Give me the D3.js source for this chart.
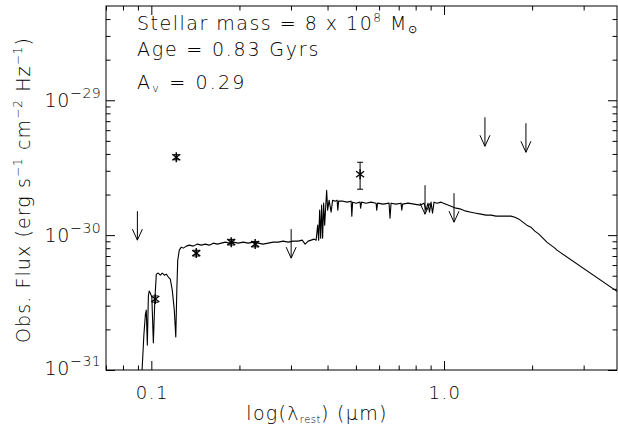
<!DOCTYPE html>
<html>
<head>
<meta charset="utf-8">
<script src="https://cdn.jsdelivr.net/npm/d3@7"></script>
<style>
  body { margin: 0; background: #fff; }
  svg { display: block; }
  text { font-family: "DejaVu Sans", sans-serif; font-weight: 300; fill: #000; }
</style>
</head>
<body>
<svg id="chart" width="618" height="438"></svg>
<script>
// model spectrum: rest wavelength (micron) and flux in units of 1e-30 erg/s/cm2/Hz
var specLambda = [0.0928,0.0943,0.0954,0.0961,0.0969,0.0977,0.0983,0.0992,0.1004,0.1016,
  0.1028,0.1040,0.1056,0.1073,0.1090,0.1108,0.1125,0.1143,0.1161,0.1179,
  0.1198,0.1212,0.1222,0.1231,0.1246,0.1266,0.1286,0.1317,0.1348,0.1391,
  0.1436,0.1482,0.1529,0.1578,0.1628,0.1680,0.1734,0.1789,0.1846,0.1905,
  0.1981,0.2061,0.2143,0.2229,0.2318,0.2411,0.2507,0.2608,0.2712,0.2821,
  0.2934,0.3051,0.3174,0.3276,0.3353,0.3434,0.3516,0.3600,0.3657,0.3701,
  0.3730,0.3759,0.3789,0.3818,0.3848,0.3879,0.3910,0.3972,0.4003,0.4050,
  0.4114,0.4163,0.4246,0.4313,0.4337,0.4364,0.4520,0.4667,0.4816,0.4842,
  0.4873,0.5006,0.5168,0.5188,0.5229,0.5419,0.5633,0.5861,0.5891,0.5929,
  0.6191,0.6489,0.6539,0.6592,0.6855,0.7133,0.7172,0.7218,0.7535,0.7900,
  0.8281,0.8545,0.8681,0.8817,0.8923,0.9029,0.9136,0.9244,0.9464,0.9767,
  1.016,1.057,1.099,1.143,1.189,1.236,1.286,1.337,1.391,1.447,
  1.505,1.565,1.627,1.693,1.747,1.803,1.860,1.919,1.981,2.044,
  2.110,2.177,2.246,2.318,2.392,2.431,4.0];
var specFlux = [0.092,0.182,0.256,0.278,0.153,0.353,0.385,0.372,0.347,0.159,
  0.330,0.514,0.523,0.505,0.523,0.505,0.514,0.489,0.472,0.391,
  0.278,0.176,0.391,0.653,0.774,0.815,0.801,0.829,0.843,0.829,
  0.858,0.843,0.858,0.843,0.872,0.858,0.872,0.887,0.872,0.887,
  0.872,0.887,0.872,0.887,0.872,0.858,0.872,0.887,0.887,0.903,
  0.887,0.903,0.903,0.918,0.858,0.903,0.918,0.934,0.918,1.186,
  0.918,1.532,0.950,1.668,0.950,1.726,1.186,2.154,1.532,1.816,
  1.480,1.816,1.786,1.816,1.532,1.786,1.786,1.756,1.786,1.383,
  1.756,1.726,1.756,1.585,1.756,1.726,1.756,1.726,1.532,1.726,
  1.697,1.726,1.336,1.726,1.697,1.726,1.532,1.697,1.726,1.697,
  1.668,1.726,1.532,1.726,1.480,1.756,1.455,1.756,1.726,1.756,
  1.697,1.640,1.585,1.558,1.506,1.480,1.455,1.431,1.407,1.407,
  1.383,1.383,1.383,1.383,1.359,1.314,1.248,1.186,1.146,1.071,
  1.017,0.950,0.887,0.843,0.801,0.774,0.369];

// photometry detections (same units), with lower / upper error
var detLambda = [0.1032, 0.1217, 0.1424, 0.1875, 0.2264, 0.5168];
var detFlux   = [0.336, 3.78, 0.736, 0.887, 0.858, 2.83];
var detLo     = [0.318, 3.62, 0.700, 0.845, 0.818, 2.19];
var detHi     = [0.354, 3.95, 0.772, 0.930, 0.898, 3.47];

// upper limits
var limLambda = [0.0896, 0.3004, 0.8613, 1.082, 1.380, 1.905];
var limFlux   = [1.506, 1.108, 2.346, 2.047, 7.48, 6.754];

var xMajor = [0.1, 1.0];
var xMinor = [0.07, 0.08, 0.09, 0.2, 0.3, 0.4, 0.5, 0.6, 0.7, 0.8, 0.9, 2, 3];
var yMajor = [1e-31, 1e-30, 1e-29];
var yMajorLabels = ["\u221231", "\u221230", "\u221229"];
var yMinor = [2e-31,3e-31,4e-31,5e-31,6e-31,7e-31,8e-31,9e-31,
              2e-30,3e-30,4e-30,5e-30,6e-30,7e-30,8e-30,9e-30,
              2e-29,3e-29,4e-29];

var svg = d3.select("#chart");
var L = 106, R = 617, T = 6, B = 370;

var x = d3.scaleLog().domain([0.07, 3.9]).range([L, R]);
var y = d3.scaleLog().domain([1e-31, 5e-29]).range([B, T]);

svg.append("clipPath").attr("id", "clip")
  .append("rect").attr("x", L).attr("y", T).attr("width", R - L).attr("height", B - T);

// axes, IDL style: ticks inside on all four sides
function ticks(axisFn, scale, vals, len, tx, ty) {
  svg.append("g").attr("transform", "translate(" + tx + "," + ty + ")")
    .call(axisFn(scale).tickValues(vals).tickSize(len).tickFormat(""))
    .call(function(g){ g.select(".domain").remove(); g.selectAll("line").attr("stroke", "#000"); });
}
ticks(d3.axisBottom, x, xMajor, -9, 0, B);
ticks(d3.axisBottom, x, xMinor, -4.5, 0, B);
ticks(d3.axisTop, x, xMajor, -9, 0, T);
ticks(d3.axisTop, x, xMinor, -4.5, 0, T);
ticks(d3.axisLeft, y, yMajor, -9, L, 0);
ticks(d3.axisLeft, y, yMinor, -4.5, L, 0);
ticks(d3.axisRight, y, yMajor, -9, R, 0);
ticks(d3.axisRight, y, yMinor, -4.5, R, 0);

svg.append("rect").attr("x", L).attr("y", T).attr("width", R - L).attr("height", B - T)
  .attr("fill", "none").attr("stroke", "#000").attr("stroke-width", 1);

// tick labels
svg.selectAll(".xl").data(xMajor).join("text")
  .attr("x", function(d){ return x(d) + 1; }).attr("y", 399)
  .attr("text-anchor", "middle").attr("font-size", 18).attr("letter-spacing", 1.5)
  .text(function(d){ return d.toFixed(1); });

yMajor.forEach(function(v, i) {
  var t = svg.append("text").attr("x", 101).attr("y", y(v) + 7 - (i === 0 ? 2 : 0))
    .attr("text-anchor", "end").attr("font-size", 19).attr("letter-spacing", 0.8);
  t.append("tspan").text("10");
  t.append("tspan").attr("dy", -9).attr("font-size", 14).attr("letter-spacing", 0.4).text(yMajorLabels[i]);
});

// axis titles
var xt = svg.append("text").attr("x", 317).attr("y", 420)
  .attr("text-anchor", "middle").attr("font-size", 19).attr("letter-spacing", 1.3);
xt.append("tspan").text("log(\u03bb");
xt.append("tspan").attr("font-size", 10).attr("dy", 3).attr("letter-spacing", 0.5).text("rest");
xt.append("tspan").attr("dy", -3).text(")  (\u03bcm)");

var yt = svg.append("text").attr("transform", "translate(30,190) rotate(-90)")
  .attr("text-anchor", "middle").attr("font-size", 19).attr("letter-spacing", 1.1);
yt.append("tspan").text("Obs. Flux (erg s");
yt.append("tspan").attr("dy", -8).attr("font-size", 12).text("\u22121");
yt.append("tspan").attr("dy", 8).text(" cm");
yt.append("tspan").attr("dy", -8).attr("font-size", 12).text("\u22122");
yt.append("tspan").attr("dy", 8).text(" Hz");
yt.append("tspan").attr("dy", -8).attr("font-size", 12).text("\u22121");
yt.append("tspan").attr("dy", 8).text(")");

// annotations
var a1 = svg.append("text").attr("x", 137).attr("y", 30).attr("font-size", 19).attr("letter-spacing", 1.5);
a1.append("tspan").text("Stellar mass = 8 x 10");
a1.append("tspan").attr("dy", -8).attr("font-size", 12).text("8");
a1.append("tspan").attr("dy", 8).text(" M");
a1.append("tspan").attr("dy", 3).attr("font-size", 11).text("\u2299");
svg.append("text").attr("x", 137).attr("y", 56).attr("font-size", 19).attr("letter-spacing", 1.8)
  .text("Age = 0.83 Gyrs");
var a3 = svg.append("text").attr("x", 137).attr("y", 89).attr("font-size", 19).attr("letter-spacing", 2.2);
a3.append("tspan").text("A");
a3.append("tspan").attr("dy", 3).attr("font-size", 11).text("v");
a3.append("tspan").attr("dy", -3).text(" = 0.29");

// spectrum
var spec = specLambda.map(function(l, i){ return [l, specFlux[i] * 1e-30]; });
svg.append("path").datum(spec)
  .attr("clip-path", "url(#clip)")
  .attr("fill", "none").attr("stroke", "#000").attr("stroke-width", 1.1)
  .attr("stroke-linejoin", "round")
  .attr("d", d3.line().x(function(d){ return x(d[0]); }).y(function(d){ return y(d[1]); }));

// detections: asterisk with error bar
var det = svg.append("g").attr("stroke", "#000").attr("stroke-width", 1.4);
detLambda.forEach(function(l, i) {
  var cx = x(l), cy = y(detFlux[i] * 1e-30);
  var yl = y(detLo[i] * 1e-30), yh = y(detHi[i] * 1e-30);
  det.append("line").attr("x1", cx).attr("x2", cx).attr("y1", yl).attr("y2", yh).attr("stroke-width", 1);
  det.append("line").attr("x1", cx - 3).attr("x2", cx + 3).attr("y1", yl).attr("y2", yl).attr("stroke-width", 1);
  det.append("line").attr("x1", cx - 3).attr("x2", cx + 3).attr("y1", yh).attr("y2", yh).attr("stroke-width", 1);
  var s = 5;
  det.append("line").attr("x1", cx).attr("x2", cx).attr("y1", cy - s).attr("y2", cy + s);
  det.append("line").attr("x1", cx - s * 0.8).attr("x2", cx + s * 0.8).attr("y1", cy - s * 0.6).attr("y2", cy + s * 0.6);
  det.append("line").attr("x1", cx - s * 0.8).attr("x2", cx + s * 0.8).attr("y1", cy + s * 0.6).attr("y2", cy - s * 0.6);
});

// upper limits: downward arrows
var lim = svg.append("g").attr("stroke", "#000").attr("stroke-width", 1).attr("fill", "none");
limLambda.forEach(function(l, i) {
  var cx = x(l), cy = y(limFlux[i] * 1e-30), tip = cy + 29;
  lim.append("line").attr("x1", cx).attr("x2", cx).attr("y1", cy).attr("y2", tip);
  lim.append("path").attr("d", "M" + (cx - 5) + "," + (tip - 11) + "L" + cx + "," + tip + "L" + (cx + 5) + "," + (tip - 11));
});
</script>
</body>
</html>
